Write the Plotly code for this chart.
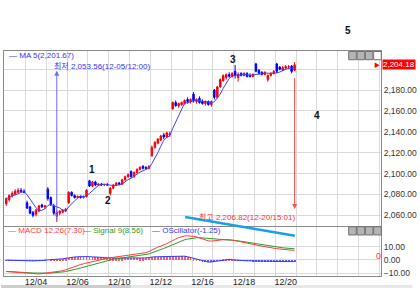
import plotly.graph_objects as go
import pandas as pd

# ---------------- data ----------------
days = ["12/03", "12/04", "12/05", "12/06", "12/09", "12/10", "12/11",
        "12/12", "12/13", "12/16", "12/17", "12/18", "12/19", "12/20"]
bars_per_day = 7
label_days = ["12/04", "12/06", "12/10", "12/12", "12/16", "12/18", "12/20"]

open_ = [
    2071, 2075, 2079, 2080, 2082, 2084, 2083,
    2072, 2068, 2063, 2061, 2064, 2070, 2068,
    2085, 2077, 2069, 2059, 2062, 2063, 2064,
    2072, 2082, 2079, 2077, 2078, 2077, 2078,
    2093, 2088, 2092, 2089, 2090, 2089, 2089.5,
    2081, 2086, 2089, 2091, 2090, 2094, 2097,
    2102, 2097, 2101, 2104, 2107, 2106, 2105,
    2117, 2125, 2129, 2132, 2137, 2135, 2137,
    2162, 2168, 2165, 2166, 2167, 2171, 2169,
    2176, 2169, 2172, 2169, 2167, 2169, 2166,
    2180, 2173, 2183, 2189, 2192, 2195, 2193,
    2198, 2192, 2196, 2194, 2196, 2194, 2193,
    2205, 2199, 2197, 2195, 2190, 2194, 2196,
    2205, 2202, 2199, 2201, 2202, 2203, 2199,
]
high = [
    2077, 2080, 2083, 2085, 2086, 2086, 2085,
    2074, 2069, 2064, 2066, 2070, 2071, 2070,
    2087, 2078, 2071, 2065, 2065, 2066, 2067,
    2083, 2083, 2080, 2079, 2079, 2079, 2085,
    2094, 2093, 2093, 2091, 2091, 2090, 2091,
    2087, 2090, 2092, 2092, 2095, 2098, 2100,
    2103, 2102, 2105, 2107, 2108, 2107, 2108,
    2127, 2131, 2134, 2137, 2139, 2140, 2140,
    2169, 2170, 2168, 2169, 2171, 2173, 2172,
    2178, 2172, 2174, 2171, 2170, 2170, 2170,
    2181, 2184, 2191, 2195, 2196, 2197, 2197,
    2204, 2197, 2197, 2197, 2197, 2196, 2196,
    2206, 2200, 2198, 2198, 2195, 2197, 2199,
    2206, 2203, 2203, 2204, 2204, 2204, 2206.82,
]
low = [
    2069, 2073, 2077, 2079, 2081, 2082, 2081,
    2066, 2061, 2058, 2059, 2063, 2067, 2066,
    2074, 2069, 2060, 2053.56, 2060, 2062, 2063,
    2071, 2078, 2076, 2076, 2076, 2076, 2077,
    2087, 2087, 2088, 2088, 2088, 2088, 2088,
    2079, 2085, 2088, 2089, 2089, 2093, 2096,
    2096, 2096, 2100, 2103, 2104, 2104, 2104,
    2116, 2124, 2128, 2131, 2133, 2134, 2135,
    2161, 2164, 2163, 2165, 2166, 2167, 2167,
    2168, 2167, 2167, 2166, 2165, 2165, 2164,
    2171, 2172, 2182, 2188, 2190, 2192, 2192,
    2191, 2188, 2193, 2193, 2192, 2192, 2192,
    2197, 2195, 2194, 2194, 2188, 2193, 2195,
    2196, 2199, 2198, 2200, 2200, 2196, 2198,
]
close = [
    2076, 2079, 2081, 2083, 2084, 2083, 2082,
    2067, 2062, 2060, 2065, 2069, 2068, 2069,
    2076, 2070, 2062, 2063, 2064, 2065, 2066,
    2082, 2079, 2077, 2078, 2077, 2078, 2084,
    2088, 2092, 2089, 2090, 2089, 2089.5, 2089,
    2086, 2089, 2091, 2090, 2094, 2097, 2099,
    2097, 2101, 2104, 2106, 2105, 2105, 2107,
    2125, 2130, 2133, 2136, 2135, 2139, 2138,
    2168, 2165, 2167, 2168, 2170, 2169, 2171,
    2170, 2171, 2168, 2167, 2169, 2166, 2169,
    2173, 2183, 2190, 2194, 2195, 2193, 2196,
    2194, 2195, 2194, 2196, 2193, 2193, 2195,
    2198, 2196, 2195, 2197, 2194, 2196, 2198,
    2198, 2200, 2201.5, 2202.5, 2202.3, 2197.85, 2204.18,
]
macd = [
    -8.8, -9.0, -9.2, -9.4, -9.6, -9.8, -10.0,
    -10.2, -10.4, -10.6, -10.7, -10.6, -10.4, -10.1,
    -10.0, -9.8, -9.5, -9.2, -8.8, -8.2, -7.5,
    -6.6, -5.8, -5.0, -4.2, -3.5, -2.9, -2.3,
    -1.7, -1.2, -0.6, 0.0, 0.5, 1.0, 1.4,
    1.7, 2.0, 2.3, 2.6, 3.0, 3.4, 3.8,
    4.2, 4.4, 4.6, 4.8, 5.0, 5.6, 6.5,
    7.8, 9.0, 9.8, 10.6, 11.3, 12.4, 13.6,
    15.0, 16.0, 17.0, 17.8, 18.3, 18.4, 18.3,
    18.0, 17.5, 16.8, 16.0, 15.2, 14.6, 14.4,
    14.5, 14.8, 15.2, 15.5, 15.6, 15.5, 15.2,
    14.8, 14.4, 14.0, 13.5, 13.0, 12.5, 12.0,
    11.5, 11.0, 10.5, 10.0, 9.6, 9.2, 8.8,
    8.6, 8.4, 8.2, 8.0, 7.8, 7.5, 7.30,
]
signal = [
    -8.7, -8.9, -9.0, -9.2, -9.3, -9.5, -9.6,
    -9.7, -9.8, -9.9, -10.0, -10.0, -10.0, -10.0,
    -10.0, -9.9, -9.8, -9.6, -9.4, -9.1, -8.8,
    -8.4, -7.9, -7.3, -6.7, -6.1, -5.5, -4.9,
    -4.3, -3.6, -3.0, -2.3, -1.6, -0.9, -0.3,
    0.2, 0.6, 0.9, 1.2, 1.5, 1.8, 2.1,
    2.4, 2.7, 3.0, 3.3, 3.6, 4.0, 4.6,
    5.5, 6.5, 7.3, 8.0, 8.8, 9.8, 10.9,
    12.0, 13.0, 14.0, 14.8, 15.4, 15.9, 16.4,
    16.8, 17.0, 17.0, 16.8, 16.5, 16.2, 15.9,
    15.7, 15.5, 15.4, 15.3, 15.2, 15.1, 15.0,
    14.9, 14.7, 14.4, 14.0, 13.6, 13.2, 12.8,
    12.4, 12.0, 11.6, 11.2, 10.8, 10.4, 10.0,
    9.7, 9.5, 9.3, 9.1, 8.9, 8.7, 8.56,
]
price_ticks = [2060, 2080, 2100, 2120, 2140, 2160, 2180, 2200]
macd_ticks = [-10, 0, 10]
ma_period = 5
low_value, low_time = 2053.56, "12-05/12:00"
high_value, high_time = 2206.82, "12-20/15:01"
last_price = 2204.18
macd_legend = ["MACD 12,26(7.30)", "Signal 9(8.56)", "OScillator(-1.25)"]

# ---------------- derived ----------------
x = list(range(len(close)))
ma = pd.Series(close).rolling(ma_period, min_periods=1).mean().tolist()
osc = [m - s for m, s in zip(macd, signal)]
low_idx = low.index(low_value)
high_idx = high.index(high_value)
tick_idx = [days.index(d) * bars_per_day + 3 for d in label_days]
# the 2,200 label sits under the red last-price tag
price_text = ["" if abs(v - last_price) < 8 else f"{v:,.2f}" for v in price_ticks]

# ---------------- geometry helpers (pixels -> paper) ----------------
W, H = 420, 290
L, R, T, B = 3, 32, 51, 12
PW, PH = W - L - R, H - T - B


def px(v):
    return (v - L) / PW


def py(v):
    return (H - B - v) / PH


FONT = "Liberation Sans, Noto Sans CJK KR, sans-serif"
GRID = "#dadada"
FRAME = "#8a8a8a"

fig = go.Figure()

fig.add_trace(go.Candlestick(
    x=x, open=open_, high=high, low=low, close=close,
    increasing=dict(line=dict(color="#ff0000", width=1), fillcolor="#ff0000"),
    decreasing=dict(line=dict(color="#0000ff", width=1), fillcolor="#0000ff"),
    whiskerwidth=0, showlegend=False, hoverinfo="skip",
    xaxis="x", yaxis="y"))
fig.add_trace(go.Scatter(x=x, y=ma, mode="lines",
                         line=dict(color="#4040ff", width=1),
                         showlegend=False, hoverinfo="skip",
                         xaxis="x", yaxis="y"))

fig.add_trace(go.Bar(x=x, y=osc, width=0.3,
                     marker=dict(color=["#ff5a5a" if v >= 0 else "#5a5aff" for v in osc],
                                 line=dict(width=0)),
                     showlegend=False, hoverinfo="skip", xaxis="x2", yaxis="y2"))
fig.add_trace(go.Scatter(x=x, y=osc, mode="lines",
                         line=dict(color="#3a3aff", width=1),
                         showlegend=False, hoverinfo="skip", xaxis="x2", yaxis="y2"))
fig.add_trace(go.Scatter(x=x, y=signal, mode="lines",
                         line=dict(color="#2e9a2e", width=1),
                         showlegend=False, hoverinfo="skip", xaxis="x2", yaxis="y2"))
fig.add_trace(go.Scatter(x=x, y=macd, mode="lines",
                         line=dict(color="#ff3c3c", width=1),
                         showlegend=False, hoverinfo="skip", xaxis="x2", yaxis="y2"))

xrange = [-0.75, -0.75 + PW / 3.036]

annotations = [
    dict(xref="paper", yref="paper", x=px(6), y=py(55.5), xanchor="left", yanchor="middle",
         text=f"— MA {ma_period}({ma[-1]:,.2f})", showarrow=False,
         font=dict(family=FONT, size=8, color="#3333ff")),
    dict(xref="paper", yref="paper", x=px(52), y=py(66), xanchor="left", yanchor="middle",
         text=f"최저 {low_value:,.2f}({low_time})", showarrow=False,
         font=dict(family=FONT, size=8, color="#3333ff")),
    dict(xref="paper", yref="paper", x=px(200), y=py(218), xanchor="left", yanchor="middle",
         text=f"최고 {high_value:,.2f}({high_time})", showarrow=False,
         font=dict(family=FONT, size=8, color="#ff3333")),
    # arrows
    dict(xref="x", yref="y", x=low_idx, y=2198.5, axref="x", ayref="y",
         ax=low_idx, ay=low_value, text="", showarrow=True, arrowhead=2,
         arrowsize=1, arrowwidth=1, arrowcolor="#6a6aff", standoff=0, startstandoff=0),
    dict(xref="x", yref="y", x=high_idx, y=2066, axref="x", ayref="y",
         ax=high_idx, ay=2193, text="", showarrow=True, arrowhead=2,
         arrowsize=1, arrowwidth=1, arrowcolor="#ff4d4d", standoff=0, startstandoff=0),
    # last price tag
    dict(xref="paper", yref="y", x=px(389.5), y=last_price, xanchor="left", yanchor="middle",
         text=f"{last_price:,.2f}", showarrow=False, bgcolor="#ff0000", borderpad=0,
         font=dict(family=FONT, size=8, color="#ffffff")),
    dict(xref="paper", yref="y", x=px(389), y=last_price, xanchor="right", yanchor="middle",
         text="▶", showarrow=False, font=dict(family=FONT, size=6, color="#ff0000")),
    dict(xref="paper", yref="paper", x=px(385.5), y=py(257.5), xanchor="center", yanchor="middle",
         text="0", showarrow=False, font=dict(family=FONT, size=9, color="#ff4040")),
]
# MACD panel legend
for txt, col, lx in zip(macd_legend, ["#ff3c3c", "#2e9a2e", "#3a3aff"], [5, 82, 152]):
    annotations.append(dict(xref="paper", yref="paper", x=px(lx), y=py(232),
                            xanchor="left", yanchor="middle", text="— " + txt,
                            showarrow=False, font=dict(family=FONT, size=8, color=col)))
# numbered marks
for num, (nx, ny) in zip(["1", "2", "3", "4", "5"],
                         [(93, 171), (109.5, 202), (236.7, 60), (323, 116), (354, 30)]):
    annotations.append(dict(xref="paper", yref="paper", x=px(nx), y=py(ny),
                            xanchor="center", yanchor="middle", text=f"<b>{num}</b>",
                            showarrow=False, font=dict(family=FONT, size=10, color="#111111")))

shapes = [
    # cyan trend line
    dict(type="line", xref="paper", yref="paper", x0=px(188), y0=py(218.5),
         x1=px(300), y1=py(237.5), line=dict(color="#1aa0e6", width=2.5)),
    # bottom scrollbar (drawn under everything)
    dict(type="rect", xref="paper", yref="paper", x0=px(0), x1=px(133), y0=py(290), y1=py(287),
         fillcolor="#cdcdcd", line=dict(width=0), layer="below"),
    dict(type="rect", xref="paper", yref="paper", x0=px(133), x1=px(420), y0=py(290), y1=py(287),
         fillcolor="#e8e8e8", line=dict(width=0), layer="below"),
]
# little panel buttons
for top in (51.5, 228.3):
    for i, bx in enumerate([355, 363.5, 372, 380.5]):
        shapes.append(dict(type="rect", xref="paper", yref="paper",
                           x0=px(bx), x1=px(bx + 7.8), y0=py(top + 8.3), y1=py(top),
                           fillcolor="#ffffff" if (i == 3 and top < 100) else "#b4b4b4",
                           line=dict(color="#707070", width=1)))

fig.update_layout(
    width=W, height=H,
    margin=dict(l=L, r=R, t=T, b=B, pad=0),
    paper_bgcolor="#ffffff", plot_bgcolor="#ffffff",
    showlegend=False, bargap=0,
    font=dict(family=FONT, size=8, color="#333333"),
    xaxis=dict(domain=[0, 1], anchor="y", range=xrange, rangeslider=dict(visible=False),
               tickmode="linear", tick0=-0.5, dtick=bars_per_day,
               showticklabels=False, ticks="", showgrid=True, gridcolor=GRID, gridwidth=1,
               zeroline=False, showline=True, linecolor=FRAME, linewidth=1, mirror=True),
    yaxis=dict(domain=[py(227.5), 1], anchor="x", side="right", range=[2049.8, 2217.4],
               tickmode="array", tickvals=price_ticks, ticktext=price_text, ticks="",
               showgrid=True, gridcolor=GRID, gridwidth=1, zeroline=False,
               showline=True, linecolor=FRAME, linewidth=1, mirror=True,
               tickfont=dict(family=FONT, size=8.5, color="#333333")),
    xaxis2=dict(domain=[0, 1], anchor="y2", range=xrange,
                tickmode="array", tickvals=tick_idx, ticktext=label_days, ticks="",
                showgrid=False, ticklabelstandoff=-3,
                minor=dict(tickmode="linear", tick0=-0.5, dtick=bars_per_day, showgrid=True,
                           gridcolor=GRID, gridwidth=1, ticks=""),
                zeroline=False, showline=True, linecolor=FRAME, linewidth=1, mirror=True,
                tickfont=dict(family=FONT, size=9, color="#222222")),
    yaxis2=dict(domain=[0, py(228.5)], anchor="x2", side="right", range=[-12.2, 25.2],
                tickmode="array", tickvals=macd_ticks, tickformat=".2f", ticks="",
                showgrid=True, gridcolor=GRID, gridwidth=1, zeroline=False,
                showline=True, linecolor=FRAME, linewidth=1, mirror=True,
                tickfont=dict(family=FONT, size=8.5, color="#333333")),
    annotations=annotations,
    shapes=shapes,
)

fig.write_html("out.html")
